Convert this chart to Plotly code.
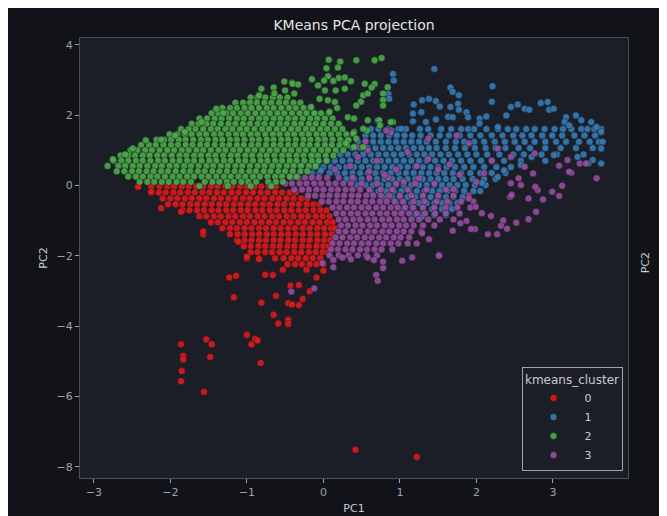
import plotly.graph_objects as go

# ---------------- data ----------------
clusters = ["0", "1", "2", "3"]
colors = {"0": "#e41a1c", "1": "#377eb8", "2": "#4daf4a", "3": "#984ea3"}
x_ticks = [-3, -2, -1, 0, 1, 2, 3]
y_ticks = [-8, -6, -4, -2, 0, 2, 4]

# cluster 0 (red): dense rows (PC2, [PC1 ...]) and scattered points (PC1, PC2)
red_rows = [
    (-0.03, [-2.42, -2.25, -2.14, -2.04, -1.95, -1.85, -1.76, -1.66, -1.57, -1.47, -1.38, -1.28, -1.19, -1.09, -1.0, -0.9, -0.81, -0.71, -0.62]),
    (-0.2, [-2.25, -2.15, -2.06, -1.96, -1.87, -1.77, -1.68, -1.58, -1.49, -1.39, -1.3, -1.2, -1.11, -1.01, -0.92, -0.82, -0.73, -0.63, -0.54, -0.44, -0.36]),
    (-0.37, [-2.1, -2.0, -1.91, -1.81, -1.72, -1.62, -1.53, -1.43, -1.34, -1.24, -1.15, -1.05, -0.96, -0.86, -0.77, -0.67, -0.58, -0.48, -0.39, -0.29, -0.21]),
    (-0.54, [-2.03, -1.93, -1.84, -1.74, -1.65, -1.55, -1.46, -1.36, -1.27, -1.17, -1.08, -0.98, -0.89, -0.79, -0.7, -0.6, -0.51, -0.41, -0.32, -0.22, -0.13, -0.05]),
    (-0.71, [-1.84, -1.75, -1.65, -1.56, -1.46, -1.37, -1.27, -1.18, -1.08, -0.99, -0.89, -0.8, -0.7, -0.61, -0.51, -0.42, -0.32, -0.23, -0.13, -0.04, 0.04]),
    (-0.88, [-1.62, -1.53, -1.43, -1.34, -1.24, -1.15, -1.05, -0.96, -0.86, -0.77, -0.67, -0.58, -0.48, -0.39, -0.29, -0.2, -0.1, -0.01, 0.08]),
    (-1.05, [-1.47, -1.38, -1.28, -1.19, -1.09, -1.0, -0.9, -0.81, -0.71, -0.62, -0.52, -0.43, -0.33, -0.24, -0.14, -0.05, 0.05, 0.12]),
    (-1.22, [-1.32, -1.22, -1.13, -1.03, -0.94, -0.84, -0.75, -0.65, -0.56, -0.46, -0.37, -0.27, -0.18, -0.08, 0.01, 0.1, 0.15]),
    (-1.39, [-1.57, -1.22, -1.12, -1.03, -0.93, -0.84, -0.74, -0.65, -0.55, -0.46, -0.36, -0.27, -0.17, -0.08, 0.02, 0.11]),
    (-1.56, [-1.13, -1.03, -0.94, -0.84, -0.75, -0.65, -0.56, -0.46, -0.37, -0.27, -0.18, -0.08, 0.01, 0.09]),
    (-1.73, [-1.04, -0.95, -0.85, -0.76, -0.66, -0.57, -0.47, -0.38, -0.28, -0.19, -0.09, 0.0, 0.07]),
    (-1.9, [-0.95, -0.86, -0.76, -0.67, -0.57, -0.48, -0.38, -0.29, -0.19, -0.1, -0.01, 0.06]),
    (-2.07, [-1.0, -0.84, -0.63, -0.52, -0.42, -0.33, -0.23, -0.14, -0.04]),
    (-2.24, [-0.47, -0.37, -0.28, -0.18, -0.09, 0.0]),
]
red_extra = [
    (-2.42, -0.04), (-2.25, -0.18), (-2.12, -0.65), (-1.86, -0.75), (-1.57, -1.31), (-1.11, -1.6),
    (-1.23, -2.62), (-1.14, -2.57), (-1.17, -3.18), (-0.81, -3.34), (-0.65, -3.68), (-0.59, -3.93),
    (-0.46, -3.82), (-0.46, -3.94), (-0.62, -3.14), (-0.66, -2.55), (-0.76, -2.54), (-0.53, -2.4),
    (-0.43, -2.85), (-0.32, -2.83), (-0.46, -3.35), (-0.41, -3.39), (-0.32, -3.4), (-0.27, -3.23),
    (-0.18, -3.01), (-0.09, -2.62), (0.0, -2.43), (-0.22, -2.4), (-0.84, -2.1), (-1.0, -2.03),
    (-1.0, -4.25), (-0.94, -4.52), (-0.89, -4.36), (-0.86, -4.41), (-0.82, -5.05),
    (-1.86, -4.52), (-1.83, -4.85), (-1.83, -4.95), (-1.85, -5.28), (-1.86, -5.57),
    (-1.53, -4.38), (-1.46, -4.52), (-1.48, -4.88), (-1.56, -5.87), (0.42, -7.52), (1.22, -7.72),
]

# cluster 1 (blue)
blue_rows = [
    (1.6, [0.62, 0.72, 0.85, 0.98, 1.08, 1.26, 1.37, 1.54, 1.67, 1.8, 1.89, 1.97, 2.13, 2.28, 2.41, 2.52, 2.65, 2.76, 2.89, 3.02, 3.13, 3.24, 3.37, 3.45, 3.54, 3.63]),
    (1.42, [0.55, 0.65, 0.75, 0.86, 0.96, 1.06, 1.16, 1.27, 1.4, 1.52, 1.64, 1.78, 1.92, 2.05, 2.2, 2.34, 2.48, 2.6, 2.72, 2.86, 2.99, 3.12, 3.28, 3.41, 3.55]),
    (1.24, [0.45, 0.55, 0.65, 0.75, 0.85, 0.95, 1.05, 1.15, 1.25, 1.35, 1.47, 1.6, 1.73, 1.84, 1.97, 2.1, 2.24, 2.37, 2.5, 2.63, 2.76, 2.9, 3.04, 3.17, 3.34, 3.48, 3.6]),
    (1.06, [0.38, 0.48, 0.58, 0.68, 0.78, 0.88, 0.98, 1.08, 1.18, 1.28, 1.38, 1.48, 1.6, 1.72, 1.85, 1.98, 2.12, 2.25, 2.38, 2.55, 2.7, 2.9, 3.1, 3.3, 3.52]),
    (0.88, [0.22, 0.32, 0.42, 0.52, 0.62, 0.72, 0.82, 0.92, 1.02, 1.12, 1.22, 1.32, 1.42, 1.53, 1.64, 1.76, 1.88, 2.0, 2.14, 2.3, 2.48, 2.62, 2.85, 3.05, 3.4]),
    (0.7, [0.05, 0.15, 0.25, 0.35, 0.45, 0.55, 0.65, 0.75, 0.85, 0.95, 1.05, 1.15, 1.25, 1.35, 1.46, 1.57, 1.68, 1.8, 1.92, 2.06, 2.2, 2.36, 2.58, 2.9]),
    (0.52, [-0.12, 0.0, 0.1, 0.2, 0.3, 0.4, 0.5, 0.6, 0.7, 0.8, 0.9, 1.0, 1.1, 1.2, 1.3, 1.4, 1.5, 1.61, 1.72, 1.84, 1.96, 2.1, 2.26, 2.45]),
    (0.35, [-0.05, 0.08, 0.18, 0.28, 0.38, 0.48, 0.58, 0.68, 0.78, 0.88, 0.98, 1.08, 1.18, 1.28, 1.38, 1.48, 1.58, 1.69, 1.8, 1.92, 2.05, 2.2, 2.38]),
    (0.18, [0.3, 0.4, 0.5, 0.6, 0.7, 0.8, 0.9, 1.0, 1.1, 1.2, 1.3, 1.4, 1.5, 1.6, 1.7, 1.82, 1.95, 2.1, 2.25]),
    (0.01, [0.45, 0.55, 0.65, 0.75, 0.85, 0.95, 1.05, 1.15, 1.25, 1.35, 1.45, 1.55, 1.65, 1.75, 1.86, 1.98, 2.12]),
    (-0.16, [0.62, 0.72, 0.82, 0.92, 1.02, 1.12, 1.22, 1.32, 1.42, 1.52, 1.62, 1.72, 1.84, 1.96, 2.05]),
    (-0.33, [0.8, 0.9, 1.0, 1.1, 1.2, 1.3, 1.4, 1.5, 1.6, 1.7, 1.82]),
    (-0.5, [0.95, 1.05, 1.15, 1.25, 1.35, 1.45, 1.55, 1.65, 1.75]),
    (-0.67, [1.05, 1.18, 1.3, 1.42, 1.55, 1.68]),
    (-0.84, [1.2, 1.29, 1.45, 1.6]),
]
blue_extra = [
    (0.91, 3.17), (0.92, 2.98), (1.45, 3.31), (0.85, 2.6), (0.86, 2.46), (1.66, 2.78), (1.69, 2.66),
    (1.77, 2.56), (2.21, 2.82), (2.2, 2.38), (1.18, 2.3), (1.29, 2.42), (1.38, 2.46), (1.47, 2.4),
    (1.52, 2.24), (1.66, 2.23), (1.76, 2.32), (1.77, 2.15), (1.28, 2.08), (1.17, 2.04), (1.17, 1.82),
    (1.34, 1.8), (1.47, 1.87), (1.63, 1.95), (1.69, 1.94), (1.87, 2.08), (1.89, 1.94), (2.04, 1.9),
    (2.04, 1.76), (2.13, 1.96), (2.28, 1.66), (2.39, 1.99), (2.45, 2.23), (2.54, 2.3), (2.63, 2.18),
    (2.69, 2.15), (2.84, 2.34), (2.93, 2.37), (2.95, 2.15), (3.01, 2.18), (3.17, 1.94), (3.3, 1.99),
    (3.15, 1.8), (3.21, 1.71), (3.37, 1.85), (3.5, 1.8), (3.57, 1.66), (3.63, 1.52), (3.65, 1.24),
    (3.63, 1.05), (3.52, 0.72), (3.63, 0.62), (3.46, 0.62), (3.32, 0.81), (0.71, 1.85), (0.89, 1.56),
    (1.02, 1.61), (-0.11, 2.04), (-0.13, 0.86), (-0.09, 0.62), (-0.03, 0.43), (-0.31, 0.57),
    (-0.15, 0.34), (3.01, 0.86), (2.72, 0.81), (2.58, 0.58), (2.36, 0.43), (2.07, 0.07), (2.28, 0.24),
    (1.29, -0.89), (1.6, -0.79),
]

# cluster 2 (green)
green_rows = [
    (2.5, [-0.95, -0.86, -0.76, -0.66, -0.57, -0.47]),
    (2.35, [-1.15, -1.05, -0.96, -0.87, -0.77, -0.68, -0.58, -0.49, -0.39, -0.3]),
    (2.2, [-1.32, -1.22, -1.13, -1.03, -0.94, -0.84, -0.74, -0.65, -0.55, -0.45, -0.36, -0.26, -0.17]),
    (2.05, [-1.46, -1.37, -1.27, -1.18, -1.08, -0.99, -0.89, -0.79, -0.7, -0.6, -0.51, -0.41, -0.31, -0.22, -0.12, -0.03, 0.07]),
    (1.9, [-1.62, -1.52, -1.42, -1.33, -1.23, -1.13, -1.04, -0.94, -0.84, -0.75, -0.65, -0.56, -0.46, -0.37, -0.27, -0.17, -0.08, 0.02, 0.12]),
    (1.75, [-1.72, -1.63, -1.53, -1.44, -1.34, -1.24, -1.15, -1.05, -0.96, -0.86, -0.77, -0.67, -0.57, -0.48, -0.38, -0.29, -0.19, -0.1, 0.0, 0.1, 0.2]),
    (1.6, [-1.86, -1.76, -1.67, -1.57, -1.47, -1.38, -1.28, -1.19, -1.09, -1.0, -0.9, -0.8, -0.71, -0.61, -0.52, -0.42, -0.33, -0.23, -0.14, -0.04, 0.05, 0.15, 0.25]),
    (1.45, [-2.01, -1.91, -1.81, -1.72, -1.62, -1.53, -1.43, -1.34, -1.24, -1.14, -1.05, -0.95, -0.86, -0.76, -0.66, -0.57, -0.47, -0.38, -0.28, -0.19, -0.09, 0.0, 0.1, 0.2, 0.3]),
    (1.3, [-2.18, -2.08, -1.99, -1.89, -1.8, -1.7, -1.6, -1.51, -1.41, -1.32, -1.22, -1.13, -1.03, -0.93, -0.84, -0.74, -0.65, -0.55, -0.46, -0.36, -0.26, -0.17, -0.07, 0.02, 0.12, 0.22, 0.33]),
    (1.15, [-2.38, -2.28, -2.19, -2.09, -1.99, -1.9, -1.8, -1.71, -1.61, -1.52, -1.42, -1.32, -1.23, -1.13, -1.04, -0.94, -0.85, -0.75, -0.65, -0.56, -0.46, -0.37, -0.27, -0.18, -0.08, 0.02, 0.11, 0.21, 0.31]),
    (1.0, [-2.52, -2.43, -2.33, -2.24, -2.14, -2.04, -1.95, -1.85, -1.76, -1.66, -1.57, -1.47, -1.37, -1.28, -1.18, -1.09, -0.99, -0.9, -0.8, -0.7, -0.61, -0.51, -0.42, -0.32, -0.23, -0.13, -0.03, 0.06, 0.16, 0.26]),
    (0.85, [-2.65, -2.55, -2.46, -2.36, -2.27, -2.17, -2.08, -1.98, -1.88, -1.79, -1.69, -1.6, -1.5, -1.41, -1.31, -1.21, -1.12, -1.02, -0.93, -0.83, -0.74, -0.64, -0.54, -0.45, -0.35, -0.26, -0.16, -0.07, 0.03, 0.13]),
    (0.7, [-2.74, -2.64, -2.55, -2.45, -2.36, -2.26, -2.16, -2.07, -1.97, -1.88, -1.78, -1.69, -1.59, -1.49, -1.4, -1.3, -1.21, -1.11, -1.02, -0.92, -0.82, -0.73, -0.63, -0.54, -0.44, -0.35, -0.25, -0.15, -0.06, 0.04]),
    (0.55, [-2.68, -2.59, -2.49, -2.4, -2.3, -2.2, -2.11, -2.01, -1.92, -1.82, -1.73, -1.63, -1.53, -1.44, -1.34, -1.25, -1.15, -1.06, -0.96, -0.86, -0.77, -0.67, -0.58, -0.48, -0.39, -0.29, -0.19, -0.1]),
    (0.4, [-2.7, -2.6, -2.5, -2.41, -2.31, -2.22, -2.12, -2.03, -1.93, -1.83, -1.74, -1.64, -1.55, -1.45, -1.36, -1.26, -1.16, -1.07, -0.97, -0.88, -0.78, -0.69, -0.59, -0.5, -0.4, -0.3, -0.21]),
    (0.25, [-2.55, -2.45, -2.36, -2.26, -2.17, -2.07, -1.97, -1.88, -1.78, -1.69, -1.59, -1.5, -1.4, -1.3, -1.21, -1.11, -1.02, -0.92, -0.83, -0.73, -0.63, -0.54, -0.44, -0.35]),
    (0.1, [-2.4, -2.3, -2.21, -2.11, -2.02, -1.92, -1.83, -1.73, -1.55, -1.45, -1.36, -1.26, -1.17, -1.07, -0.98, -0.88, -0.72, -0.62, -0.53]),
    (-0.02, [-1.62, -1.25, -0.95, -0.68]),
]
green_extra = [
    (-0.51, 2.95), (-0.41, 2.92), (-0.15, 3.02), (-0.07, 2.84), (0.07, 3.57), (0.22, 3.52), (0.43, 3.56),
    (0.67, 3.56), (0.76, 3.62), (0.04, 3.33), (0.19, 3.35), (0.06, 3.1), (0.2, 3.05), (0.28, 3.07),
    (0.01, 2.98), (0.13, 2.97), (0.36, 2.96), (0.54, 2.89), (0.67, 2.88), (0.63, 2.78), (0.84, 2.79),
    (0.52, 2.56), (0.58, 2.61), (0.78, 2.61), (0.78, 2.43), (0.49, 2.38), (0.43, 2.27), (0.78, 2.27),
    (0.02, 2.7), (0.16, 2.7), (0.28, 2.75), (-0.81, 2.75), (-0.65, 2.78), (-0.4, 2.89), (-0.33, 2.87),
    (-0.38, 2.61), (-0.05, 2.46), (0.06, 2.42), (0.15, 2.37), (-0.16, 2.23), (0.08, 2.09), (0.18, 2.2),
    (0.32, 1.94), (0.4, 1.9), (0.58, 1.85), (0.73, 1.85), (0.91, 1.8), (0.74, 1.71), (0.88, 1.8),
    (0.57, 1.56), (0.4, 1.52), (0.52, 1.61), (0.39, 1.47), (0.32, 1.28), (0.43, 1.33), (0.29, 1.2),
    (0.4, 1.09), (0.52, 1.09), (-2.82, 0.55), (-2.75, 0.74), (-2.59, 0.88), (-2.49, 1.05),
    (-2.32, 1.28), (-2.12, 1.3), (-1.94, 1.42), (-1.81, 1.52), (-1.59, 1.8), (-1.4, 2.18),
    (-1.31, 2.06), (-0.84, 2.56), (-0.64, 2.62), (-0.5, 2.7),
]

# cluster 3 (purple)
purple_rows = [
    (0.22, [-0.42, -0.33, -0.24, -0.15, -0.06, 0.05, 0.2, 0.38, 0.6, 0.85]),
    (0.05, [-0.5, -0.41, -0.31, -0.22, -0.12, -0.03, 0.07, 0.16, 0.26, 0.36, 0.5, 0.7, 0.95, 1.2]),
    (-0.12, [-0.38, -0.28, -0.19, -0.09, 0.0, 0.1, 0.19, 0.29, 0.38, 0.48, 0.6, 0.75, 0.9, 1.1, 1.35, 1.6]),
    (-0.29, [-0.2, -0.11, -0.01, 0.08, 0.18, 0.27, 0.37, 0.46, 0.56, 0.65, 0.75, 0.86, 1.0, 1.15, 1.3, 1.5, 1.7, 1.9]),
    (-0.46, [-0.02, 0.07, 0.17, 0.26, 0.36, 0.45, 0.55, 0.64, 0.74, 0.83, 0.93, 1.04, 1.18, 1.32, 1.48, 1.62, 1.8, 1.96]),
    (-0.63, [0.12, 0.21, 0.31, 0.4, 0.5, 0.59, 0.69, 0.78, 0.88, 0.97, 1.07, 1.17, 1.3, 1.45, 1.6, 1.75, 1.92]),
    (-0.8, [0.17, 0.26, 0.36, 0.45, 0.55, 0.64, 0.74, 0.83, 0.93, 1.02, 1.12, 1.22, 1.33, 1.46, 1.6, 1.78]),
    (-0.97, [0.2, 0.29, 0.39, 0.48, 0.58, 0.67, 0.77, 0.86, 0.96, 1.05, 1.15, 1.25, 1.37, 1.52, 1.7]),
    (-1.14, [0.23, 0.32, 0.42, 0.51, 0.61, 0.7, 0.8, 0.89, 0.99, 1.08, 1.18, 1.3, 1.45]),
    (-1.31, [0.2, 0.29, 0.39, 0.48, 0.58, 0.67, 0.77, 0.86, 0.96, 1.05, 1.15, 1.28]),
    (-1.48, [0.16, 0.25, 0.35, 0.44, 0.54, 0.63, 0.73, 0.82, 0.92, 1.01, 1.12]),
    (-1.65, [0.12, 0.21, 0.31, 0.4, 0.5, 0.59, 0.69, 0.78, 0.88, 0.98, 1.1, 1.22]),
    (-1.82, [0.1, 0.19, 0.29, 0.38, 0.48, 0.57, 0.67, 0.76, 0.9]),
    (-1.99, [0.08, 0.2, 0.33, 0.45, 0.56, 0.7]),
]
purple_extra = [
    (3.57, 0.2), (3.19, 0.72), (3.08, 0.56), (3.24, 0.36), (3.12, -0.01), (2.99, -0.18), (2.87, -0.4),
    (3.08, -0.3), (2.8, -0.13), (2.78, -0.75), (2.68, -0.96), (2.52, -1.06), (2.35, -1.0), (2.32, -1.15),
    (2.4, -1.23), (2.44, -0.32), (2.45, 0.06), (2.58, 0.01), (2.19, -0.87), (2.15, -1.39), (2.27, -1.39),
    (1.98, -1.24), (1.93, -1.24), (1.87, -1.01), (1.79, -1.08), (1.69, -1.29), (1.38, -1.53), (1.51, -1.98),
    (2.63, 0.53), (2.74, 0.34), (2.77, -0.04), (2.68, -0.37), (2.46, -0.27), (1.99, -0.61), (1.9, -0.37),
    (2.07, -0.79), (1.29, -1.36), (3.35, 0.62), (3.21, 0.39), (3.43, 0.62),
    (-0.42, -3.02), (-0.12, -2.93), (-0.01, -2.21), (0.13, -2.33), (0.13, -2.12), (0.25, -2.05),
    (0.36, -2.1), (0.58, -2.05), (0.66, -2.12), (0.69, -2.55), (0.71, -2.71), (0.78, -2.35),
    (0.78, -2.17), (1.03, -2.14), (1.16, -2.05), (1.51, -2.0),
    (0.43, 1.09), (0.58, 1.0), (0.45, 0.81), (1.74, 1.42), (1.37, 1.33), (2.28, 1.05), (2.45, 0.81),
    (2.76, 0.91), (1.1, 0.95), (1.22, 0.55), (1.37, 0.75), (1.5, 0.45), (1.65, 0.6), (1.78, 0.3),
    (1.9, 1.2), (2.1, 0.35), (2.2, 0.7), (2.55, 0.2), (2.0, 0.1), (1.25, 0.2), (0.95, 0.45), (0.7, 0.7),
    (0.35, 0.55), (0.15, 0.45), (0.55, 1.25), (0.8, 0.3), (1.05, 0.1), (1.45, 0.05), (1.7, -0.1),
    (0.6, 0.4), (0.88, 1.5), (0.82, 1.56),
]


def collect(rows, extra):
    xs, ys = [], []
    for yv, xlist in rows:
        for xv in xlist:
            xs.append(xv)
            ys.append(yv)
    for xv, yv in extra:
        xs.append(xv)
        ys.append(yv)
    return xs, ys


cluster_data = {
    "0": collect(red_rows, red_extra),
    "1": collect(blue_rows, blue_extra),
    "2": collect(green_rows, green_extra),
    "3": collect(purple_rows, purple_extra),
}

# ---------------- figure ----------------
FONT = "DejaVu Sans"
fig = go.Figure()
for name in ["0", "1", "3", "2"]:
    xs, ys = cluster_data[name]
    fig.add_trace(go.Scatter(
        x=xs, y=ys, mode="markers", name=name, legendrank=int(name),
        marker=dict(size=7, color=colors[name], opacity=0.88,
                    line=dict(width=0.6, color="rgba(25,25,30,0.85)")),
        hoverinfo="skip",
    ))

tick_col = "#9ea2ab"
axis_common = dict(showgrid=False, zeroline=False, showline=True, mirror=True,
                   linecolor="#4b4e58", linewidth=1, ticks="outside", ticklen=4,
                   tickcolor=tick_col, tickfont=dict(family=FONT, size=11, color=tick_col),
                   automargin=False)

# the page body adds an 8 px offset, so the figure is 8 px smaller than the window
W, H = 659, 508
fig.update_layout(
    width=W, height=H,
    paper_bgcolor="#111319", plot_bgcolor="#1b1e27",
    margin=dict(l=72, r=39, t=30, b=38),
    font=dict(family=FONT, color="#c8cbd2"),
    title=dict(text="KMeans PCA projection", x=0.5, xref="paper", xanchor="center",
               y=1 - 17 / H, yref="container", yanchor="middle",
               font=dict(family=FONT, size=14, color="#e2e4e8")),
    xaxis=dict(range=[-3.18, 3.98], tickvals=x_ticks,
               title=dict(text="PC1", standoff=6, font=dict(family=FONT, size=11, color="#c8cbd2")),
               **axis_common),
    yaxis=dict(range=[-8.32, 4.19], tickvals=y_ticks,
               title=dict(text="PC2", standoff=6, font=dict(family=FONT, size=11, color="#c8cbd2")),
               **axis_common),
    legend=dict(x=0.99, xanchor="right", y=0.016, yanchor="bottom",
                bgcolor="#1b1e27", bordercolor="#a3a6ad", borderwidth=1,
                font=dict(family=FONT, size=11, color="#c8cbd2"),
                title=dict(text="kmeans_cluster", side="top center",
                           font=dict(family=FONT, size=12, color="#c8cbd2")),
                itemwidth=52, tracegroupgap=1),
    showlegend=True,
)

# neighbouring panel's axis label and tick labels cut by the right edge
plot_w = W - 72 - 39
fig.add_annotation(text="PC2", xref="paper", yref="paper", x=(637 - 72) / plot_w, y=0.488,
                   xanchor="center", yanchor="middle",
                   textangle=-90, showarrow=False, font=dict(family=FONT, size=11, color="#c8cbd2"))
for tv in [-8, -6, -4, -2]:
    fig.add_annotation(text="\u2212" + str(-tv), xref="paper", yref="y", x=(650 - 72) / plot_w, y=tv,
                       xanchor="left", showarrow=False, font=dict(family=FONT, size=11, color=tick_col))

fig.write_html("out.html")
